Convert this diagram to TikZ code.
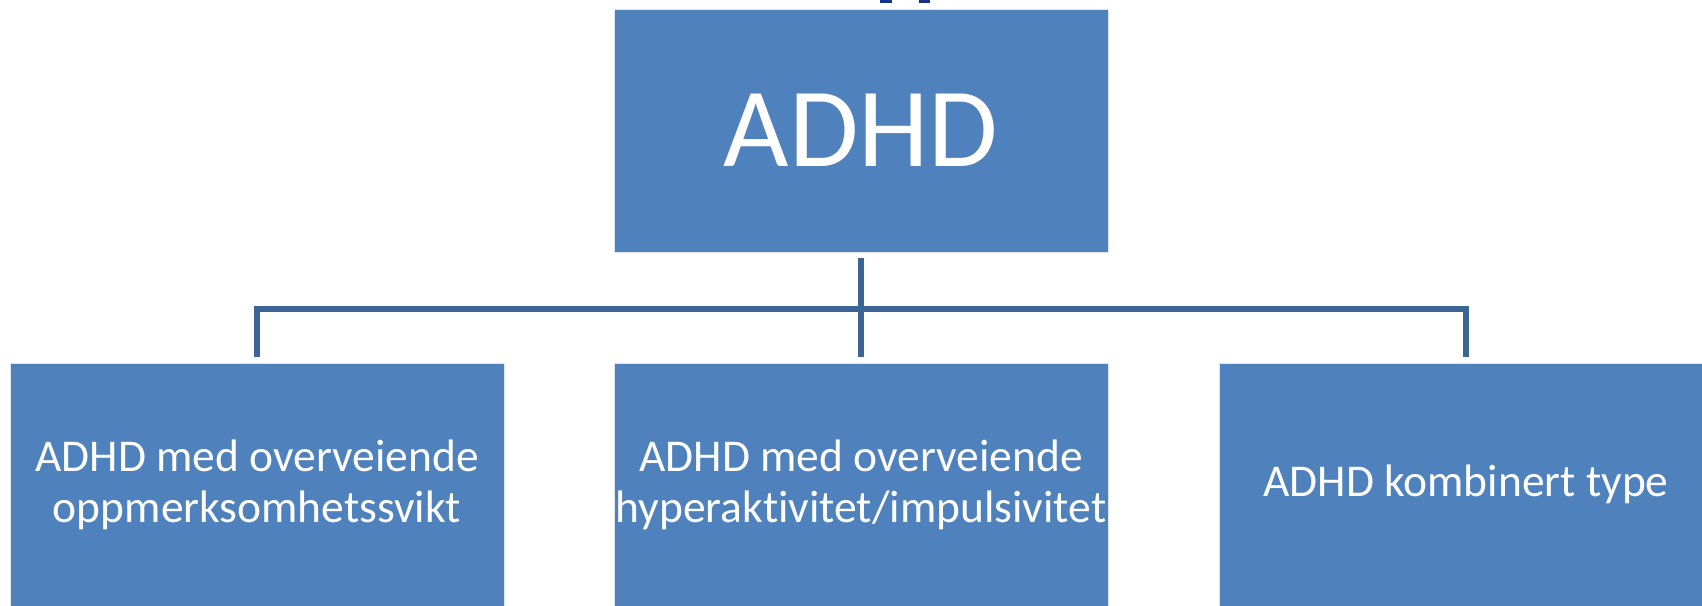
\documentclass[tikz,border=0pt]{standalone}
\usepackage{fontspec}
\setmainfont{Carlito}[Ligatures=NoCommon]
\definecolor{boxblue}{RGB}{79,129,189}
\definecolor{linkblue}{RGB}{60,100,148}
\definecolor{titleblue}{RGB}{20,50,140}
\tikzset{
  topbox/.style={fill=boxblue, draw=white!80!boxblue, line width=0.8pt, minimum width=494pt, minimum height=243pt, inner sep=0pt, text=white, font=\fontsize{113}{136}\selectfont},
  subbox/.style={fill=boxblue, draw=white!80!boxblue, line width=0.8pt, minimum width=494pt, minimum height=243pt, inner sep=0pt, text=white, align=center, font=\fontsize{45.5}{51}\selectfont},
  conn/.style={draw=linkblue, line width=5.5pt, line join=miter}
}
\begin{document}
\begin{tikzpicture}[x=1pt,y=-1pt]
\useasboundingbox (0,0) rectangle (1702,605);
\clip (0,0) rectangle (1702,605);
\fill[titleblue] (880,-2) rectangle (892,3);
\fill[titleblue] (919,-2) rectangle (930,3);
\node[topbox] (adhd) at (861,130.5) {ADHD};
\node[subbox] (b1) at (257,484.5) {ADHD med overveiende\\oppmerksomhetssvikt};
\node[subbox] (b2) at (861,484.5) {ADHD med overveiende\\hyperaktivitet/impulsivitet};
\node[subbox] (b3) at (1466,484.5) {ADHD kombinert type};
\coordinate (hb) at (861,309);
\draw[conn] ([yshift=-6pt]adhd.south) -- ([yshift=6pt]b2.north);
\draw[conn] ([yshift=6pt]b1.north) -- (b1.north |- hb) -- (b3.north |- hb) -- ([yshift=6pt]b3.north);
\end{tikzpicture}
\end{document}
